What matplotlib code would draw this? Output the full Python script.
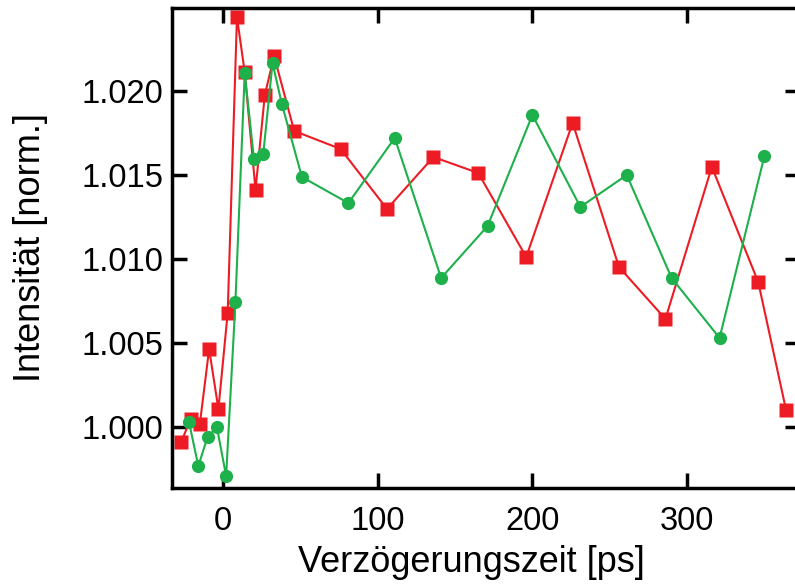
import matplotlib
matplotlib.use("Agg")
import matplotlib.pyplot as plt

# delay times [ps] and normalised intensities
red_t = [-27, -21, -15, -9, -3, 3, 9, 14, 21, 27, 33, 46, 76, 106, 136, 165, 196, 226, 256, 286, 316, 346, 364]
red_i = [0.99911, 1.00048, 1.00018, 1.00464, 1.00107, 1.00679, 1.02440, 1.02113, 1.01411, 1.01976,
         1.02208, 1.01762, 1.01655, 1.01298, 1.01607, 1.01512, 1.01012, 1.01810, 1.00952, 1.00643,
         1.01548, 1.00863, 1.00101]

green_t = [-22, -16, -10, -4, 2, 8, 14, 20, 26, 32, 38, 51, 81, 111, 141, 171, 200, 231, 261, 290, 321, 350]
green_i = [1.00030, 0.99768, 0.99940, 1.00000, 0.99708, 1.00744, 1.02107, 1.01595, 1.01625, 1.02167,
           1.01923, 1.01488, 1.01333, 1.01720, 1.00887, 1.01196, 1.01857, 1.01310, 1.01500, 1.00887,
           1.00530, 1.01613]

xticks = [0, 100, 200, 300]
yticks = [1.000, 1.005, 1.010, 1.015, 1.020]

plt.rcParams['font.family'] = ['Liberation Sans', 'DejaVu Sans']

fig = plt.figure(figsize=(7.95, 5.87), dpi=100)
# right spine sits just outside the canvas, like in the original
ax = fig.add_axes([172 / 795, 99 / 587, 628 / 795, 480 / 587])

ax.plot(red_t, red_i, '-s', color='#ED1C24', lw=1.5, ms=9.5, mec='none')
ax.plot(green_t, green_i, '-o', color='#1DB04B', lw=1.5, ms=9.5, mec='none')

ax.set_xlim(-33, 373)
ax.set_ylim(0.99637, 1.02494)
ax.set_xticks(xticks)
ax.set_yticks(yticks)
ax.set_yticklabels([f"{v:.3f}" for v in yticks])

for s in ax.spines.values():
    s.set_linewidth(2.5)
ax.tick_params(direction='in', length=11, width=2.5, top=True, right=True, labelsize=23.5)
ax.tick_params(axis='x', pad=13)
ax.tick_params(axis='y', pad=6)

ax.set_xlabel('Verzögerungszeit [ps]', fontsize=26, labelpad=6)
ax.xaxis.label.set_x(0.477)
ax.set_ylabel('Intensität [norm.]', fontsize=26, labelpad=24)

fig.savefig('out.png', dpi=100)
